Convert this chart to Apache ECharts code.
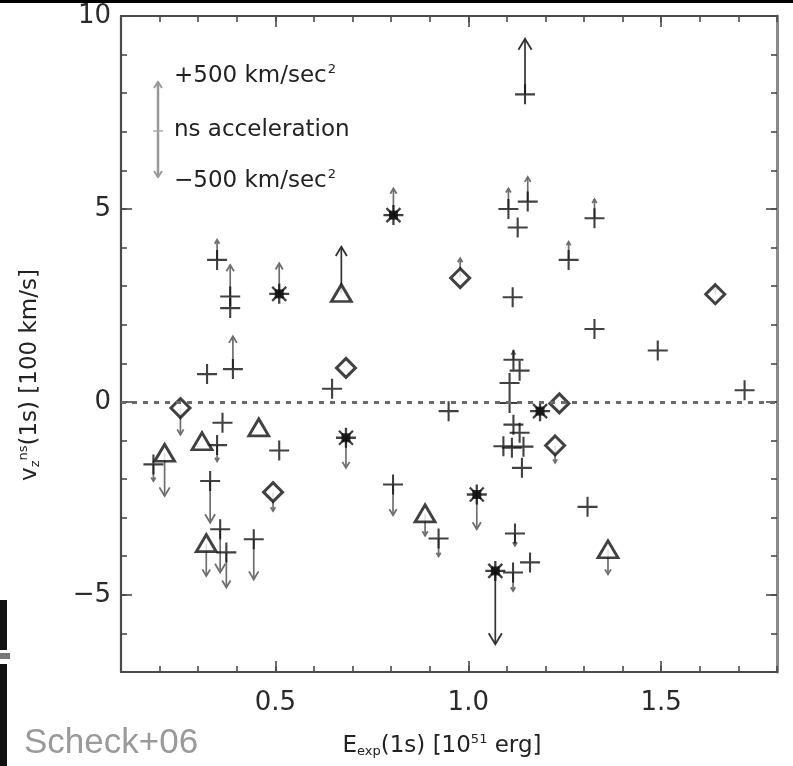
<!DOCTYPE html>
<html>
<head>
<meta charset="utf-8">
<script src="https://cdn.jsdelivr.net/npm/echarts@6/dist/echarts.min.js"></script>
<style>
html,body{margin:0;padding:0;background:#fff;}
#chart{width:793px;height:766px;}
</style>
</head>
<body>
<div id="chart"></div>
<script>
// ---- data (x: E_exp(1s) [1e51 erg], y: v_z^ns(1s) [100 km/s], end: arrow tip y, null = no arrow)
const plusX   = [1.147, 1.104, 1.154, 1.128, 1.327, 1.26, 1.115, 1.327, 1.491, 1.716,
                 1.117, 1.133, 1.107, 1.107, 0.949, 1.117, 1.133, 1.091, 1.113, 1.143,
                 1.139, 0.349, 0.383, 0.383, 0.39, 0.323, 0.647, 0.363, 0.349, 0.51,
                 0.184, 0.331, 0.357, 0.373, 0.444, 0.805, 0.923, 1.121, 1.309, 1.116, 1.16];
const plusY   = [7.97, 5.00, 5.19, 4.52, 4.76, 3.68, 2.71, 1.89, 1.33, 0.30,
                 1.09, 0.81, 0.49, -0.03, -0.24, -0.59, -0.80, -1.15, -1.19, -1.16,
                 -1.71, 3.68, 2.73, 2.43, 0.85, 0.72, 0.34, -0.54, -1.12, -1.26,
                 -1.62, -2.05, -3.30, -3.90, -3.56, -2.14, -3.54, -3.41, -2.72, -4.42, -4.16];
const plusEnd = [9.41, 5.53, 5.83, null, 5.25, 4.15, null, null, null, null,
                 1.31, null, null, null, null, null, null, null, null, null,
                 null, 4.20, 3.55, null, 1.70, null, null, null, -1.54, null,
                 -2.05, -3.13, -4.42, -4.81, -4.60, -2.94, -4.00, -3.73, null, -4.90, null];

const triX   = [0.671, 0.457, 0.31, 0.213, 0.321, 0.888, 1.362];
const triY   = [2.82, -0.66, -1.02, -1.32, -3.66, -2.89, -3.82];
const triEnd = [4.02, null, null, -2.44, -4.51, -3.47, -4.47];

const diaX   = [0.979, 1.64, 0.683, 0.254, 1.236, 1.225, 0.494];
const diaY   = [3.21, 2.79, 0.88, -0.16, -0.04, -1.13, -2.34];
const diaEnd = [3.72, 2.98, null, -0.85, null, -1.58, -2.83];

const astX   = [0.806, 0.51, 0.683, 1.186, 1.022, 1.07];
const astY   = [4.84, 2.80, -0.93, -0.24, -2.40, -4.38];
const astEnd = [5.53, 3.59, -1.71, null, -3.30, -6.28];

const xMajorTicks = [0.5, 1.0, 1.5];
const yMajorTicks = [-5, 0, 5, 10];

// ---- build
function pts(xs, ys) { return xs.map((x, i) => [x, ys[i]]); }
function arrows(xs, ys, ends) {
  const out = [];
  xs.forEach((x, i) => { if (ends[i] !== null) out.push([x, ys[i], ends[i]]); });
  return out;
}
const arrowData = [].concat(
  arrows(plusX, plusY, plusEnd), arrows(triX, triY, triEnd),
  arrows(diaX, diaY, diaEnd), arrows(astX, astY, astEnd));

const AX = '#4a4a4a';
const FONT = 'DejaVu Sans';

function arrowRender(params, api) {
  const p0 = api.coord([api.value(0), api.value(1)]);
  const p1 = api.coord([api.value(0), api.value(2)]);
  const len = Math.abs(p1[1] - p0[1]);
  const dir = p1[1] > p0[1] ? 1 : -1;
  const h = Math.min(11, Math.max(3.5, len * 0.2));
  const w = h * 0.6;
  const col = len > 45 ? '#333' : '#6e6e6e';
  return {
    type: 'group',
    children: [
      { type: 'line', shape: { x1: p0[0], y1: p0[1], x2: p1[0], y2: p1[1] },
        style: { stroke: col, lineWidth: 1.7 } },
      { type: 'polyline', shape: { points: [[p1[0] - w, p1[1] - dir * h], [p1[0], p1[1]], [p1[0] + w, p1[1] - dir * h]] },
        style: { stroke: col, lineWidth: 1.8, fill: null } }
    ]
  };
}

const numFmt = v => (v < 0 ? '\u2212' + Math.abs(v) : String(v));

function xAxisDef(pos, major, labels) {
  return {
    type: 'value', position: pos, min: 0.1, max: 1.8,
    interval: 0.1,
    axisLine: { show: !major, onZero: false, lineStyle: { color: AX, width: 2.2 } },
    axisTick: major
      ? { show: true, inside: true, length: 11, customValues: xMajorTicks, lineStyle: { color: AX, width: 1.6 } }
      : { show: true, inside: true, length: 6, lineStyle: { color: AX, width: 1.6 } },
    axisLabel: labels
      ? { show: true, customValues: xMajorTicks, formatter: v => v.toFixed(1), fontFamily: FONT, fontSize: 26, color: '#2a2a2a', margin: 18 }
      : { show: false },
    splitLine: { show: false }
  };
}
function yAxisDef(pos, major, labels) {
  return {
    type: 'value', position: pos, min: -7, max: 10,
    interval: 1,
    axisLine: { show: !major, onZero: false, lineStyle: { color: pos === 'right' ? '#8a8a8a' : AX, width: pos === 'right' ? 3 : 2.2 } },
    axisTick: major
      ? { show: true, inside: true, length: 11, customValues: yMajorTicks, lineStyle: { color: AX, width: 1.6 } }
      : { show: true, inside: true, length: 6, lineStyle: { color: AX, width: 1.6 } },
    axisLabel: labels
      ? { show: true, customValues: yMajorTicks, formatter: numFmt, fontFamily: FONT, fontSize: 26, color: '#2a2a2a', margin: 10 }
      : { show: false },
    splitLine: { show: false }
  };
}

const chart = echarts.init(document.getElementById('chart'), null, { renderer: 'canvas' });
chart.setOption({
  backgroundColor: '#fff',
  animation: false,
  grid: { left: 121, right: 16, top: 16, bottom: 94 },
  xAxis: [xAxisDef('bottom', false, false), xAxisDef('bottom', true, true),
          xAxisDef('top', false, false), xAxisDef('top', true, false)],
  yAxis: [yAxisDef('left', false, false), yAxisDef('left', true, true),
          yAxisDef('right', false, false), yAxisDef('right', true, false)],
  series: [
    {
      type: 'custom', name: 'ns acceleration', renderItem: arrowRender, data: arrowData,
      encode: { x: 0, y: [1, 2] }, z: 2,
      markLine: {
        silent: true, symbol: 'none', label: { show: false },
        lineStyle: { type: [5, 6], width: 3, color: '#6a6a6a' },
        data: [{ yAxis: 0 }]
      }
    },
    {
      type: 'scatter', name: 'plus', data: pts(plusX, plusY), z: 3,
      symbol: 'path://M0,10L20,10M10,0L10,20', symbolSize: 20,
      itemStyle: { color: 'rgba(0,0,0,0)', borderColor: '#111', borderWidth: 2.1 }
    },
    {
      type: 'scatter', name: 'triangle', data: pts(triX, triY), z: 4,
      symbol: 'triangle', symbolSize: [20, 17],
      itemStyle: { color: '#fff', borderColor: '#111', borderWidth: 2.8 }
    },
    {
      type: 'scatter', name: 'diamond', data: pts(diaX, diaY), z: 4,
      symbol: 'diamond', symbolSize: [19, 19],
      itemStyle: { color: '#fff', borderColor: '#111', borderWidth: 3 }
    },
    {
      type: 'scatter', name: 'asterisk', data: pts(astX, astY), z: 4,
      symbol: 'path://M0,10L20,10M10,0L10,20M3,3L17,17M3,17L17,3', symbolSize: 20,
      itemStyle: { color: 'rgba(0,0,0,0)', borderColor: '#111', borderWidth: 2.3 }
    },
    {
      type: 'scatter', name: 'asterisk core', data: pts(astX, astY), z: 5,
      symbol: 'rect', symbolSize: 9,
      itemStyle: { color: '#0a0a0a' }
    }
  ],
  graphic: [
    { type: 'rect', shape: { x: 0, y: 0, width: 793, height: 3 }, style: { fill: '#000' }, silent: true },
    { type: 'rect', shape: { x: 0, y: 600, width: 7, height: 50 }, style: { fill: '#111' }, silent: true },
    { type: 'rect', shape: { x: 0, y: 653, width: 10, height: 6 }, style: { fill: '#777' }, silent: true },
    { type: 'rect', shape: { x: 0, y: 664, width: 7, height: 102 }, style: { fill: '#111' }, silent: true },
    // legend for arrows
    { type: 'line', shape: { x1: 158, y1: 82, x2: 158, y2: 177 }, style: { stroke: '#999', lineWidth: 2.5 }, silent: true },
    { type: 'polyline', shape: { points: [[154, 88], [158, 82], [162, 88]] }, style: { stroke: '#999', lineWidth: 2, fill: null }, silent: true },
    { type: 'polyline', shape: { points: [[154, 171], [158, 177], [162, 171]] }, style: { stroke: '#999', lineWidth: 2, fill: null }, silent: true },
    { type: 'line', shape: { x1: 153, y1: 131, x2: 163, y2: 131 }, style: { stroke: '#aaa', lineWidth: 1.5 }, silent: true },
    { type: 'text', x: 174, y: 76, silent: true,
      style: { text: '+500 km/sec{s|2}', font: '23px "DejaVu Sans"', fill: '#222', verticalAlign: 'middle',
               rich: { s: { fontSize: 13, fontFamily: FONT, padding: [0, 0, 12, 1], fill: '#222' } } } },
    { type: 'text', x: 174, y: 130, silent: true,
      style: { text: 'ns acceleration', font: '23px "DejaVu Sans"', fill: '#222', verticalAlign: 'middle' } },
    { type: 'text', x: 174, y: 181, silent: true,
      style: { text: '\u2212500 km/sec{s|2}', font: '23px "DejaVu Sans"', fill: '#222', verticalAlign: 'middle',
               rich: { s: { fontSize: 13, fontFamily: FONT, padding: [0, 0, 12, 1], fill: '#222' } } } },
    // axis titles
    { type: 'text', x: 442, y: 746, silent: true,
      style: { text: 'E{b|exp}(1s) [10{t|51} erg]', font: '23px "DejaVu Sans"', fill: '#222', align: 'center', verticalAlign: 'middle',
               rich: { b: { fontSize: 13, fontFamily: FONT, padding: [12, 0, 0, 0], fill: '#222' },
                       t: { fontSize: 13, fontFamily: FONT, padding: [0, 0, 12, 0], fill: '#222' } } } },
    { type: 'text', x: 30, y: 375, rotation: Math.PI / 2, silent: true,
      style: { text: 'v{b|z}{t|ns}(1s) [100 km/s]', font: '23px "DejaVu Sans"', fill: '#222', align: 'center', verticalAlign: 'middle',
               rich: { b: { fontSize: 13, fontFamily: FONT, padding: [12, 0, 0, 0], fill: '#222' },
                       t: { fontSize: 13, fontFamily: FONT, padding: [0, 0, 12, 0], fill: '#222' } } } },
    { type: 'text', x: 24, y: 743, silent: true,
      style: { text: 'Scheck+06', font: '35px "Liberation Sans"', fill: '#9a9a9a', verticalAlign: 'middle' } }
  ]
});
</script>
</body>
</html>
